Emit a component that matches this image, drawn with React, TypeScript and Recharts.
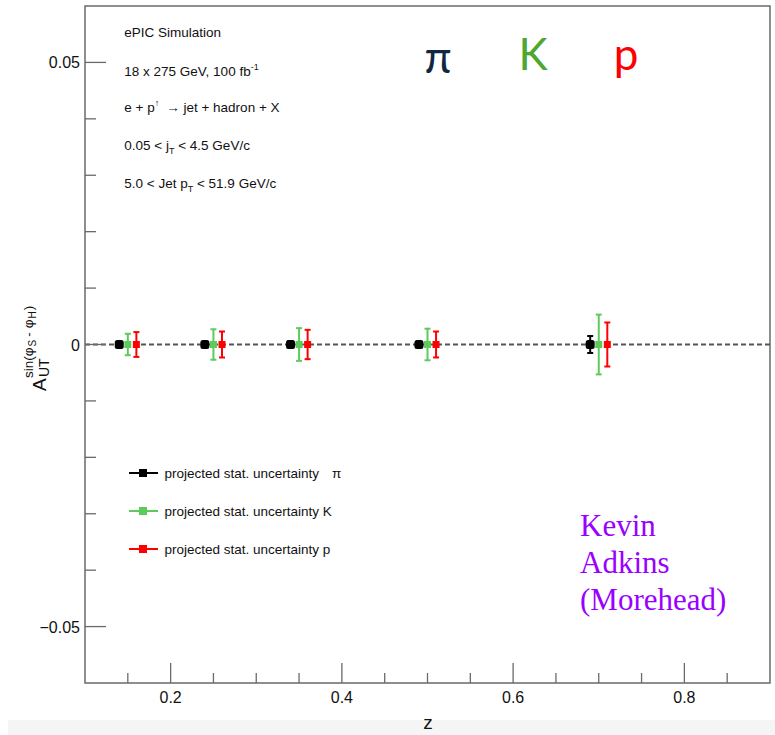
import React from 'react';
import { ScatterChart, Scatter, XAxis, YAxis, ErrorBar, ReferenceLine, ReferenceArea, Legend } from 'recharts';

// ---- data ----
const zPi = [0.14, 0.24, 0.34, 0.49, 0.69];
const zK = [0.15, 0.25, 0.35, 0.5, 0.7];
const zP = [0.16, 0.26, 0.36, 0.51, 0.71];
const aPi = [0, 0, 0, 0, 0];
const aK = [0, 0, 0, 0, 0];
const aP = [0, 0, 0, 0, 0];
const errPi = [0.0004, 0.0004, 0.0006, 0.0004, 0.0015];
const errK = [0.0019, 0.0027, 0.0029, 0.0028, 0.0053];
const errP = [0.0022, 0.0023, 0.0026, 0.0023, 0.0039];

const xDomain = [0.1, 0.9];
const yDomain = [-0.06, 0.06];
const xTicks = [0.15, 0.2, 0.25, 0.3, 0.35, 0.4, 0.45, 0.5, 0.55, 0.6, 0.65, 0.7, 0.75, 0.8, 0.85];
const xMajorTicks = [0.2, 0.4, 0.6, 0.8];
const xTickLabels = ['0.2', '0.4', '0.6', '0.8'];
const yTicks = [-0.05, -0.04, -0.03, -0.02, -0.01, 0, 0.01, 0.02, 0.03, 0.04, 0.05];
const yMajorTicks = [-0.05, 0, 0.05];
const yTickLabels = ['\u22120.05', '0', '0.05'];

const legendLabels = ['projected stat. uncertainty', 'projected stat. uncertainty K', 'projected stat. uncertainty p'];

const piData = zPi.map((z, i) => ({ z, a: aPi[i], err: errPi[i] }));
const kData = zK.map((z, i) => ({ z, a: aK[i], err: errK[i] }));
const pData = zP.map((z, i) => ({ z, a: aP[i], err: errP[i] }));

const SANS = '"Liberation Sans", Arial, Helvetica, sans-serif';
const SERIF = '"Liberation Serif", "Times New Roman", serif';
const AXIS = '#6a6a6a';
const BLACK = '#000000';
const GREEN = '#5ccb5c';
const RED = '#ff0000';

const findIdx = (arr: number[], v: number) => arr.findIndex((t) => Math.abs(t - v) < 1e-9);

const renderXTick = (props: any) => {
  const { x, y, payload } = props;
  const idx = findIdx(xMajorTicks, payload.value);
  const major = idx >= 0;
  return (
    <g key={`xt-${payload.value}`}>
      <line x1={x} x2={x} y1={y} y2={y - (major ? 20 : 10)} stroke={AXIS} strokeWidth={1.3} />
      {major && (
        <text x={x} y={y + 20} textAnchor="middle" fontSize={16} fill="#111" fontFamily={SANS}>
          {xTickLabels[idx]}
        </text>
      )}
    </g>
  );
};

const renderYTick = (props: any) => {
  const { x, y, payload } = props;
  const idx = findIdx(yMajorTicks, payload.value);
  const major = idx >= 0;
  return (
    <g key={`yt-${payload.value}`}>
      <line x1={x} x2={x + (major ? 21 : 11)} y1={y} y2={y} stroke={AXIS} strokeWidth={1.3} />
      {major && (
        <text x={x - 5} y={y + 6} textAnchor="end" fontSize={16} fill="#111" fontFamily={SANS}>
          {yTickLabels[idx]}
        </text>
      )}
    </g>
  );
};

const squareShape = (color: string, size: number, rx: number) => (props: any) => {
  const { cx, cy } = props;
  return <rect x={cx - size / 2} y={cy - size / 2} width={size} height={size} rx={rx} fill={color} />;
};

const renderLegend = () => {
  const colors = [BLACK, GREEN, RED];
  const rowsY = [13, 51, 89];
  return (
    <svg width={260} height={100} style={{ display: 'block' }}>
      {colors.map((c, i) => (
        <g key={i}>
          <line x1={4} x2={33} y1={rowsY[i]} y2={rowsY[i]} stroke={c} strokeWidth={2} />
          <rect x={14} y={rowsY[i] - 4} width={8} height={8} fill={c} />
          <text x={39.5} y={rowsY[i] + 5.3} fontSize={13.5} fontFamily={SANS} fill="#111">
            {legendLabels[i]}
            {i === 0 && <tspan dx={13}>π</tspan>}
          </text>
        </g>
      ))}
    </svg>
  );
};

export default function App() {
  return (
    <div style={{ position: 'absolute', left: 0, top: 0, width: 775, height: 735, background: '#fff', overflow: 'hidden' }}>
      <div style={{ position: 'absolute', left: 8, top: 720, width: 767, height: 15, background: '#f5f5f5' }} />
      <div style={{ position: 'absolute', left: 0, top: 0 }}>
        <ScatterChart width={775} height={735} margin={{ top: 6, right: 5, bottom: 12, left: 25 }}>
          <XAxis
            type="number"
            dataKey="z"
            domain={xDomain}
            ticks={xTicks}
            interval={0}
            height={40}
            tickSize={0}
            tickMargin={0}
            axisLine={false}
            tickLine={false}
            tick={renderXTick}
            allowDataOverflow
          />
          <YAxis
            type="number"
            dataKey="a"
            domain={yDomain}
            ticks={yTicks}
            interval={0}
            width={60}
            tickSize={0}
            tickMargin={0}
            axisLine={false}
            tickLine={false}
            tick={renderYTick}
            allowDataOverflow
          />
          <ReferenceArea
            x1={xDomain[0]}
            x2={xDomain[1]}
            y1={yDomain[0]}
            y2={yDomain[1]}
            fill="none"
            fillOpacity={0}
            stroke={AXIS}
            strokeWidth={1.5}
          />
          <ReferenceLine y={0} stroke="#555" strokeWidth={2} strokeDasharray="5 3" />
          <Scatter name="pi" data={piData} fill={BLACK} shape={squareShape(BLACK, 9, 2.5)} isAnimationActive={false}>
            <ErrorBar dataKey="err" direction="y" width={3} strokeWidth={2} stroke={BLACK} isAnimationActive={false} />
          </Scatter>
          <Scatter name="K" data={kData} fill={GREEN} shape={squareShape(GREEN, 7, 0)} isAnimationActive={false}>
            <ErrorBar dataKey="err" direction="y" width={3} strokeWidth={2} stroke={GREEN} isAnimationActive={false} />
          </Scatter>
          <Scatter name="p" data={pData} fill={RED} shape={squareShape(RED, 7, 0)} isAnimationActive={false}>
            <ErrorBar dataKey="err" direction="y" width={3} strokeWidth={2} stroke={RED} isAnimationActive={false} />
          </Scatter>
          <Legend
            layout="vertical"
            align="center"
            verticalAlign="middle"
            wrapperStyle={{ left: 125, top: 460, width: 260 }}
            content={renderLegend}
          />
        </ScatterChart>
      </div>
      <svg width={775} height={735} style={{ position: 'absolute', left: 0, top: 0, pointerEvents: 'none' }}>
        <g fontFamily={SANS} fontSize={13.5} fill="#111">
          <text x={124.3} y={37.3}>ePIC Simulation</text>
          <text x={124.3} y={76}>
            18 x 275 GeV, 100 fb<tspan fontSize={9} dy={-6}>-1</tspan>
          </text>
          <text x={124.3} y={112.3}>
            e + p<tspan fontSize={9} dy={-6}>↑</tspan>
            <tspan dy={6} dx={7}>→ jet + hadron + X</tspan>
          </text>
          <text x={124.3} y={150}>
            0.05 &lt; j<tspan fontSize={9} dy={4}>T</tspan>
            <tspan dy={-4}> &lt; 4.5 GeV/c</tspan>
          </text>
          <text x={124.3} y={188.3}>
            5.0 &lt; Jet p<tspan fontSize={9} dy={4}>T</tspan>
            <tspan dy={-4}> &lt; 51.9 GeV/c</tspan>
          </text>
        </g>
        <g fontFamily="Lato, 'Open Sans', sans-serif" fontSize={44} textAnchor="middle">
          <text x={438} y={73} fill="#0e2841">π</text>
          <text x={533} y={70} fill="#4ea72e">K</text>
          <text x={626} y={70} fill={RED}>p</text>
        </g>
        <g fontFamily={SERIF} fontSize={31} fill="#9900ff">
          <text x={580} y={536}>Kevin</text>
          <text x={580} y={573}>Adkins</text>
          <text x={580} y={610}>(Morehead)</text>
        </g>
        <g fontFamily={SANS} fill="#111">
          <text transform="translate(46,391) rotate(-90)" fontSize={19}>A</text>
          <text transform="translate(48.5,377) rotate(-90)" fontSize={14}>UT</text>
          <text transform="translate(33,378) rotate(-90)" fontSize={13.5}>
            sin(φ<tspan fontSize={10} dy={3} dx={1}>S</tspan>
            <tspan dy={-3} dx={3}>-</tspan>
            <tspan dx={4}>φ</tspan>
            <tspan fontSize={10} dy={3} dx={1}>H</tspan>
            <tspan dy={-3} dx={1}>)</tspan>
          </text>
          <text x={428} y={729} fontSize={19} textAnchor="middle">z</text>
        </g>
      </svg>
    </div>
  );
}
